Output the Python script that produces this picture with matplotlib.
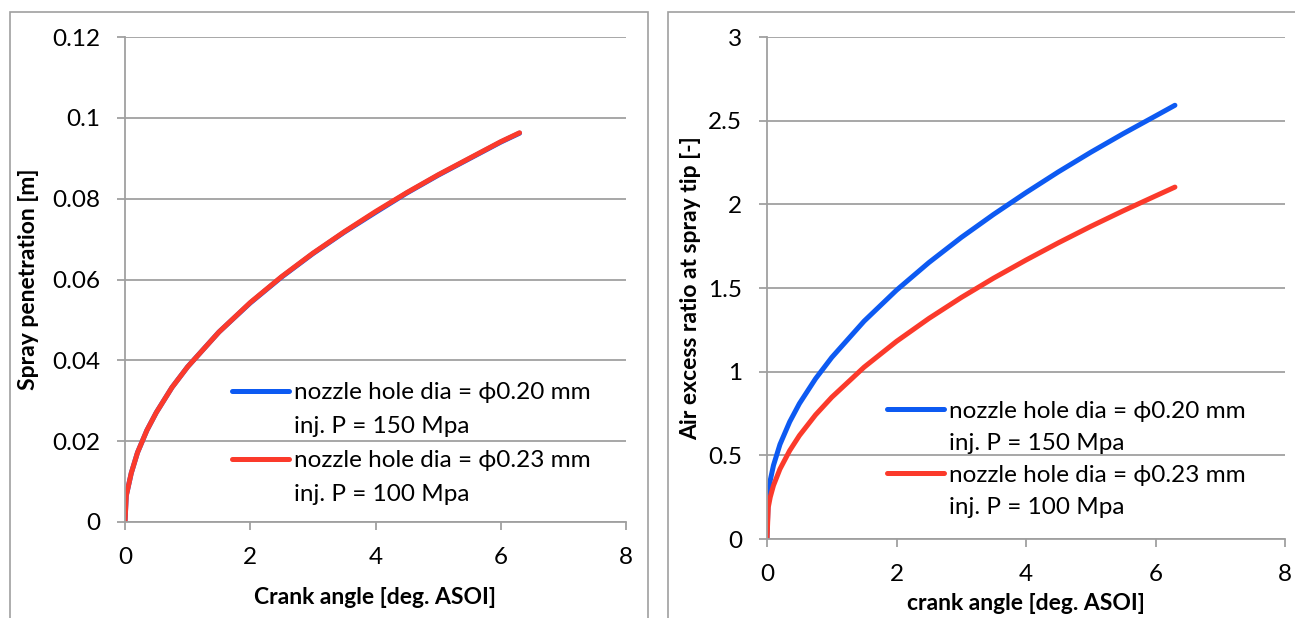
import matplotlib
matplotlib.use("Agg")
import matplotlib.pyplot as plt
from matplotlib.lines import Line2D
from matplotlib.patches import Rectangle

plt.rcParams['font.family'] = ['Lato', 'DejaVu Sans']

# crank angle [deg. ASOI]
crank = [0, 0.02, 0.05, 0.1, 0.2, 0.35, 0.5, 0.75, 1, 1.5, 2, 2.5, 3,
         3.5, 4, 4.5, 5, 5.5, 6, 6.3]

# spray penetration [m]
pen_020 = [0, 0.0065, 0.0086, 0.0121, 0.0172, 0.0227, 0.0271, 0.0333,
           0.0384, 0.0470, 0.0542, 0.0606, 0.0664, 0.0717, 0.0766, 0.0814,
           0.0858, 0.0899, 0.0940, 0.0962]
pen_023 = [0, 0.0065, 0.0086, 0.0121, 0.0172, 0.0227, 0.0271, 0.0333,
           0.0384, 0.0470, 0.0543, 0.0607, 0.0665, 0.0718, 0.0768, 0.0815,
           0.0859, 0.0900, 0.0941, 0.0963]

# air excess ratio at spray tip [-]
lam_020 = [0, 0.27, 0.35, 0.44, 0.565, 0.70, 0.809, 0.958, 1.085,
           1.302, 1.487, 1.652, 1.802, 1.940, 2.070, 2.194, 2.311, 2.422,
           2.528, 2.592]
lam_023 = [0, 0.19, 0.25, 0.32, 0.418, 0.528, 0.618, 0.742, 0.847,
           1.027, 1.181, 1.318, 1.443, 1.559, 1.667, 1.770, 1.868, 1.961,
           2.050, 2.103]

labels = [["nozzle hole dia = \u03d50.20 mm", "inj. P = 150 Mpa"],
          ["nozzle hole dia = \u03d50.23 mm", "inj. P = 100 Mpa"]]

blue = '#0d5af2'
red = '#fb3a2b'
gray = '#a0a0a0'

W, H = 1295, 618
fig = plt.figure(figsize=(W / 100, H / 100), dpi=100)

# chart frames
for x0, x1 in [(10, 648), (668, 1310)]:
    fig.patches.append(Rectangle((x0 / W, -0.05), (x1 - x0) / W, 1 - 12 / H + 0.05,
                                 transform=fig.transFigure, fill=False,
                                 edgecolor=gray, lw=1.2))

ax1 = fig.add_axes([125 / W, 1 - 522 / H, 501 / W, 485 / H])
ax2 = fig.add_axes([767 / W, 1 - 539 / H, 518 / W, 502 / H])


def style(ax, ymax, ystep, fmt):
    ax.set_xlim(0, 8)
    ax.set_ylim(0, ymax)
    ax.set_xticks(range(0, 9, 2))
    n = int(round(ymax / ystep))
    yt = [i * ystep for i in range(n + 1)]
    ax.set_yticks(yt)
    ax.set_yticklabels([fmt(v) for v in yt])
    ax.grid(axis='y', color=gray, lw=1.3)
    ax.set_axisbelow(True)
    for s in ['top', 'right']:
        ax.spines[s].set_visible(False)
    for s in ['left', 'bottom']:
        ax.spines[s].set_color(gray)
        ax.spines[s].set_linewidth(1.3)
    ax.tick_params(axis='both', colors=gray, labelcolor='black', labelsize=17.5,
                   length=6, width=1.3)
    ax.tick_params(axis='y', pad=12)
    ax.tick_params(axis='x', pad=12)


def legend(ax, anchor, spacing):
    handles = []
    texts = []
    for col, lab in zip([blue, red], labels):
        handles.append(Line2D([], [], color=col, lw=3.6, solid_capstyle='round'))
        texts.append(lab[0])
        handles.append(Line2D([], [], color='none'))
        texts.append(lab[1])
    ax.legend(handles, texts, loc='upper left', bbox_to_anchor=anchor,
              frameon=False, fontsize=17.5, handlelength=2.35, handletextpad=0.2,
              labelspacing=spacing, borderpad=0, borderaxespad=0)


ax1.plot(crank, pen_020, color=blue, lw=3.6, solid_capstyle='round')
ax1.plot(crank, pen_023, color=red, lw=3.6, solid_capstyle='round')
style(ax1, 0.12, 0.02, lambda v: '0' if v == 0 else f'{v:.2f}'.rstrip('0'))
ax1.set_xlabel('Crank angle [deg. ASOI]', fontsize=16.5, fontweight='bold', labelpad=14)
ax1.set_ylabel('Spray penetration [m]', fontsize=16.5, fontweight='bold', labelpad=9)
legend(ax1, (0.213, 0.288), 0.53)

ax2.plot(crank, lam_020, color=blue, lw=3.6, solid_capstyle='round')
ax2.plot(crank, lam_023, color=red, lw=3.6, solid_capstyle='round')
style(ax2, 3, 0.5, lambda v: f'{v:g}')
ax2.set_xlabel('crank angle [deg. ASOI]', fontsize=16.5, fontweight='bold', labelpad=6)
ax2.set_ylabel('Air excess ratio at spray tip [-]', fontsize=16.5, fontweight='bold', labelpad=5)
legend(ax2, (0.232, 0.275), 0.45)

fig.savefig('out.png', dpi=100)
